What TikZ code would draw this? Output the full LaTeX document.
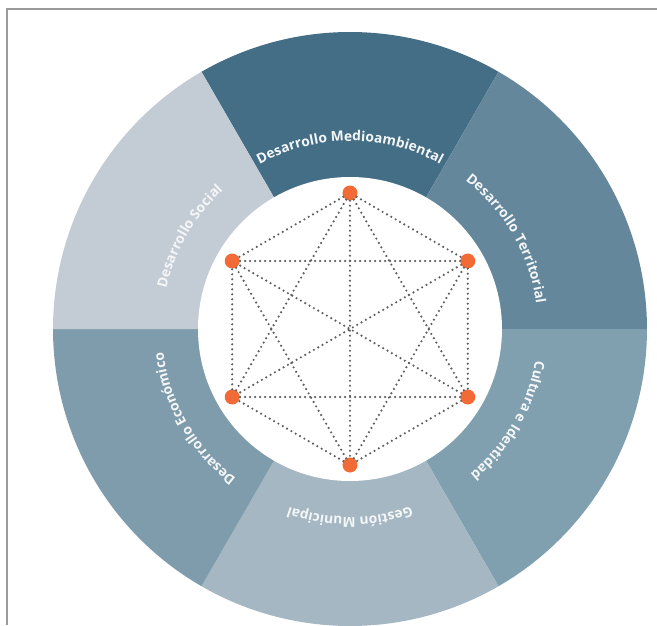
\documentclass[tikz,border=0pt]{standalone}
\usepackage{fontspec}
\setmainfont{Open Sans}
\usetikzlibrary{decorations.text}
\definecolor{medioblue}{HTML}{436E86}
\definecolor{terrblue}{HTML}{64879B}
\definecolor{cultblue}{HTML}{809FAF}
\definecolor{gestblue}{HTML}{A4B7C2}
\definecolor{econblue}{HTML}{7F9CAC}
\definecolor{socblue}{HTML}{C3CBD4}
\definecolor{hubred}{HTML}{F26A36}
\definecolor{linkgray}{HTML}{5E5E5E}
\definecolor{framegray}{HTML}{9A9A9A}
\tikzset{
  hub/.style={circle, fill=hubred, draw=none, minimum size=15pt, inner sep=0pt},
  link/.style={linkgray, line width=2.4pt, line cap=round, dash pattern=on 0pt off 5pt},
  ringlabel/.style={decorate, decoration={text along path, text align=center,
      text={|\fontsize{13.8}{15}\selectfont\bfseries\color{white!94!medioblue}|#1}}},
  frameline/.style={framegray, line width=2pt}
}
\begin{document}
\begin{tikzpicture}
  \useasboundingbox (-350pt,-296pt) rectangle (307pt,329pt);
  % frame
  \draw[frameline] (307pt,320pt) -- (-343pt,320pt) -- (-343pt,-296pt);
  % ring
  \fill[medioblue] (0,0) -- (60:297pt) arc[start angle=60, end angle=120, radius=297pt] -- cycle;
  \fill[terrblue] (0,0) -- (0:297pt) arc[start angle=0, end angle=60, radius=297pt] -- cycle;
  \fill[cultblue] (0,0) -- (-60:297pt) arc[start angle=-60, end angle=0, radius=297pt] -- cycle;
  \fill[gestblue] (0,0) -- (-120:297pt) arc[start angle=-120, end angle=-60, radius=297pt] -- cycle;
  \fill[econblue] (0,0) -- (180:297pt) arc[start angle=180, end angle=240, radius=297pt] -- cycle;
  \fill[socblue] (0,0) -- (120:297pt) arc[start angle=120, end angle=180, radius=297pt] -- cycle;
  \fill[white] (0,0) circle[radius=152pt];
  % labels
  \path[ringlabel={Desarrollo Medioambiental}] (135:188pt) arc[start angle=135, end angle=45, radius=188pt];
  \path[ringlabel={Desarrollo Territorial}] (75:188pt) arc[start angle=75, end angle=-15, radius=188pt];
  \path[ringlabel={Cultura e Identidad}] (15:188pt) arc[start angle=15, end angle=-75, radius=188pt];
  \path[ringlabel={Gestión Municipal}] (-45:188pt) arc[start angle=-45, end angle=-135, radius=188pt];
  \path[ringlabel={Desarrollo Económico}] (255:188pt) arc[start angle=255, end angle=165, radius=188pt];
  \path[ringlabel={Desarrollo Social}] (195:188pt) arc[start angle=195, end angle=105, radius=188pt];
  % hubs
  \node[hub] (medio) at (90:136pt) {};
  \node[hub] (territorio) at (30:136pt) {};
  \node[hub] (cultura) at (-30:136pt) {};
  \node[hub] (gestion) at (-90:136pt) {};
  \node[hub] (economia) at (210:136pt) {};
  \node[hub] (social) at (150:136pt) {};
  % links
  \draw[link] (medio) -- (territorio);
  \draw[link] (medio) -- (cultura);
  \draw[link] (medio) -- (gestion);
  \draw[link] (medio) -- (economia);
  \draw[link] (medio) -- (social);
  \draw[link] (territorio) -- (cultura);
  \draw[link] (territorio) -- (gestion);
  \draw[link] (territorio) -- (economia);
  \draw[link] (territorio) -- (social);
  \draw[link] (cultura) -- (gestion);
  \draw[link] (cultura) -- (economia);
  \draw[link] (cultura) -- (social);
  \draw[link] (gestion) -- (economia);
  \draw[link] (gestion) -- (social);
  \draw[link] (economia) -- (social);
\end{tikzpicture}
\end{document}
